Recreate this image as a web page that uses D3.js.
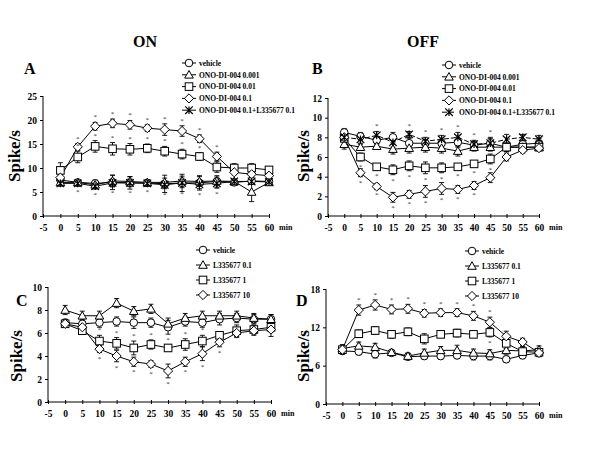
<!DOCTYPE html>
<html><head><meta charset="utf-8">
<script src="https://cdn.jsdelivr.net/npm/d3@7"></script>
<style>body{margin:0;background:#fff}svg{font-family:"Liberation Serif","Times New Roman",serif;font-weight:bold}</style>
</head><body><svg id="c" width="600" height="450"></svg>
<script>
// ---------- data ----------
const times = [0,5,10,15,20,25,30,35,40,45,50,55,60];
const xTicks = [-5,0,5,10,15,20,25,30,35,40,45,50,55,60];

// Panel A (ON, ONO-DI-004)
const A_labels = ["vehicle","ONO-DI-004 0.001","ONO-DI-004 0.01","ONO-DI-004 0.1","ONO-DI-004 0.1+L335677 0.1"];
const A_vehicle = [7.5,7.0,6.8,7.0,6.9,6.9,6.7,6.9,6.9,7.2,7.0,7.3,7.2];
const A_t001   = [7.0,7.0,6.5,7.3,7.2,7.0,7.0,7.3,7.2,7.3,7.2,5.0,7.0];
const A_t01    = [9.5,12.3,14.5,14.0,13.9,14.1,13.5,12.9,12.4,10.2,10.0,10.0,9.6];
const A_t1     = [8.0,14.4,18.7,19.3,19.0,18.3,18.0,17.7,16.1,12.4,9.1,8.7,8.4];
const A_comb   = [6.8,6.8,6.2,6.9,6.9,6.8,6.5,6.9,6.6,6.8,7.2,7.2,7.1];
const A_errV = [0.8,0.6,0.7,1.5,1.3,0.7,1.8,1.8,1.5,1.2,0.6,0.7,0.6];
const A_err1 = [0.5,0.6,0.7,1.2,1.0,0.6,0.9,1.0,1.0,0.8,0.5,2.0,0.5];
const A_err2 = [1.6,1.2,1.2,1.3,1.2,0.9,1.0,1.0,0.8,1.1,0.9,0.9,0.7];
const A_err3 = [0.6,0.7,0.8,0.9,0.9,0.7,1.2,1.1,0.8,0.9,0.5,0.5,0.5];
const A_errC = [0.6,0.6,0.6,0.8,0.8,0.6,0.8,1.0,0.9,1.0,0.4,0.5,0.4];
const A_yTicks = [0,5,10,15,20,25];

// Panel B (OFF, ONO-DI-004)
const B_labels = ["vehicle","ONO-DI-004 0.001","ONO-DI-004 0.01","ONO-DI-004 0.1","ONO-DI-004 0.1+L335677 0.1"];
const B_vehicle = [8.5,8.1,7.7,8.0,7.4,7.4,7.4,7.5,7.2,7.4,7.0,7.3,7.4];
const B_t001   = [7.3,7.0,7.1,6.8,6.9,7.0,6.9,6.6,7.0,7.0,7.0,7.0,7.0];
const B_t01    = [7.9,6.0,5.0,4.7,5.1,4.9,4.9,5.0,5.3,5.8,7.0,7.0,7.0];
const B_t1     = [8.0,4.4,3.0,1.9,2.2,2.5,2.8,2.7,3.1,3.9,6.0,6.7,6.9];
const B_comb   = [8.0,7.8,8.2,7.5,8.3,7.6,7.8,8.0,7.3,7.4,7.8,8.0,7.8];
const B_errV = [0.4,0.4,0.4,0.5,0.5,0.4,0.4,0.5,0.4,0.5,0.4,0.4,0.5];
const B_err1 = [0.5,0.3,0.3,0.5,0.5,0.5,0.5,0.5,0.4,0.4,0.4,0.3,0.3];
const B_err2 = [0.4,0.4,0.3,0.5,0.5,0.6,0.5,0.3,0.3,0.5,0.4,0.3,0.3];
const B_err3 = [0.4,0.4,0.3,0.5,0.4,0.6,0.6,0.4,0.4,0.5,0.4,0.3,0.3];
const B_errC = [0.4,0.4,0.4,0.5,0.3,0.4,0.4,0.5,0.4,0.6,0.5,0.3,0.4];
const B_yTicks = [0,2,4,6,8,10,12];

// Panel C (ON, L335677)
const C_labels = ["vehicle","L335677 0.1","L335677 1","L335677 10"];
const C_vehicle = [6.9,6.8,6.9,7.0,6.9,6.9,6.5,7.0,6.9,7.2,7.3,7.2,7.2];
const C_t01    = [8.0,7.5,7.5,8.6,7.9,8.1,6.8,7.3,7.5,7.5,7.5,7.3,7.2];
const C_t1     = [6.8,6.2,5.3,5.1,4.7,5.0,4.7,5.0,5.3,5.8,6.2,6.3,6.5];
const C_t10    = [6.8,6.5,4.6,4.0,3.5,3.3,2.7,3.5,4.2,5.2,6.0,6.2,6.3];
const C_errV = [0.3,0.4,0.4,0.4,0.5,0.4,0.6,0.4,0.4,0.5,0.4,0.4,0.4];
const C_err1 = [0.4,0.4,0.4,0.4,0.4,0.4,0.5,0.4,0.4,0.4,0.4,0.4,0.4];
const C_err2 = [0.3,0.3,0.5,0.5,0.6,0.4,0.3,0.5,0.5,0.3,0.5,0.4,0.4];
const C_err3 = [0.3,0.3,0.3,0.5,0.4,0.3,0.6,0.4,0.6,0.4,0.4,0.4,0.6];
const C_yTicks = [0,2,4,6,8,10];

// Panel D (OFF, L335677)
const D_labels = ["vehicle","L335677 0.1","L335677 1","L335677 10"];
const D_vehicle = [8.3,8.2,7.8,8.0,7.4,7.5,7.5,7.6,7.5,7.5,7.0,7.6,8.0];
const D_t01    = [8.7,9.1,8.9,8.1,7.5,8.0,8.4,8.4,8.0,7.9,8.4,8.3,8.5];
const D_t1     = [8.5,11.0,11.5,10.9,11.3,10.2,10.9,11.1,10.9,11.2,9.5,8.2,8.1];
const D_t10    = [8.5,14.7,15.5,14.8,14.9,14.2,14.3,14.3,13.8,12.8,10.6,9.7,8.0];
const D_errV = [0.5,0.5,0.6,0.4,0.5,0.5,0.5,0.5,0.6,0.6,0.5,0.5,0.5];
const D_err1 = [0.6,0.6,0.6,0.4,0.5,0.6,0.6,0.8,0.6,0.6,0.6,0.6,0.6];
const D_err2 = [0.6,0.6,0.6,0.6,0.6,0.8,0.5,0.6,0.5,0.7,0.8,0.8,0.6];
const D_err3 = [0.5,0.8,0.8,0.7,0.7,0.6,0.6,0.6,0.7,0.8,0.8,0.6,0.6];
const D_yTicks = [0,6,12,18];

// significance marks: [series index, time points, side]
const A_sig = [[3,[5,10,15,20,25,30,35,40,45],1],[2,[5,10,15,20,25,30,35,40],1],[4,[5,10,15,20,25,30,35,40,45],-1]];
const B_sig = [[4,[10,20,25,30,35,40,45],1],[2,[5,10,15,20,25,30,35,40,45],-1],[3,[5,10,15,20,25,30,35,40],-1]];
const C_sig = [[2,[10,15,20,25,30,35,40],1],[3,[10,15,20,25,30,35,40,45],-1]];
const D_sig = [[3,[5,10,15,20,25,30,35,40,45],1],[2,[5,45],-1]];

// ---------- drawing ----------
const svg = d3.select("#c");
const shapes = ["circle","triangle","square","diamond","star"];

function marker(g, type, x, y){
  const s = 3.8;
  if(type==="circle") g.append("circle").attr("cx",x).attr("cy",y).attr("r",s).attr("fill","#fff").attr("stroke","#000");
  else if(type==="square") g.append("rect").attr("x",x-s).attr("y",y-s).attr("width",2*s).attr("height",2*s).attr("fill","#fff").attr("stroke","#000");
  else if(type==="triangle") g.append("path").attr("d",`M${x},${y-s-0.5}L${x+s+0.5},${y+s-0.5}L${x-s-0.5},${y+s-0.5}Z`).attr("fill","#fff").attr("stroke","#000");
  else if(type==="diamond") g.append("path").attr("d",`M${x},${y-s-0.8}L${x+s+0.8},${y}L${x},${y+s+0.8}L${x-s-0.8},${y}Z`).attr("fill","#fff").attr("stroke","#000");
  else if(type==="star") g.append("path").attr("d",`M${x-s},${y-s}L${x+s},${y+s}M${x+s},${y-s}L${x-s},${y+s}M${x},${y-s}L${x},${y+s}`).attr("fill","none").attr("stroke","#000").attr("stroke-width",1.2);
}

function panel(cfg){
  const g = svg.append("g");
  const x = d3.scaleLinear().domain([-5,60]).range(cfg.xr);
  const y = d3.scaleLinear().domain([0,cfg.yMax]).range(cfg.yr);
  // axes
  const ya = d3.axisLeft(y).tickValues(cfg.yTicks).tickSize(3).tickFormat(d=>String(d));
  const gy = g.append("g").attr("transform",`translate(${cfg.xr[0]},0)`).call(ya);
  gy.select(".domain").attr("d",`M0,${cfg.yr[0]}V${cfg.yr[1]}`);
  gy.selectAll("text").attr("font-size",9.5).attr("font-family","Liberation Serif").attr("font-weight","bold");
  const xa = d3.axisBottom(x).tickValues(xTicks).tickSize(3).tickFormat(d=>String(d));
  const gx = g.append("g").attr("transform",`translate(0,${cfg.yr[0]})`).call(xa);
  gx.select(".domain").attr("d",`M${cfg.xr[0]},0H${cfg.xr[1]}`);
  gx.selectAll(".tick line").attr("y1",-2).attr("y2",2);
  gx.selectAll("text").attr("font-size",9.5).attr("font-family","Liberation Serif").attr("font-weight","bold").attr("dy","0.9em").attr("y",6);
  g.append("text").attr("x",cfg.xr[1]+10).attr("y",cfg.yr[0]+14).attr("font-size",8).text("min");
  // y label
  g.append("text").attr("transform",`translate(${cfg.ylx},${cfg.yly}) rotate(-90)`).attr("text-anchor","middle")
    .attr("font-size",17).text("Spike/s");
  // panel letter
  g.append("text").attr("x",cfg.letter[0]).attr("y",cfg.letter[1]).attr("font-size",16).text(cfg.letterText);
  // series
  cfg.series.forEach((vals,i)=>{
    const err = cfg.errs[i];
    const line = d3.line().x((d,j)=>x(times[j])).y(d=>y(d));
    g.append("path").attr("d",line(vals)).attr("fill","none").attr("stroke","#000").attr("stroke-width",1)
      .attr("stroke-dasharray", cfg.dash && cfg.dash[i] ? cfg.dash[i] : null);
    vals.forEach((v,j)=>{
      const cx = x(times[j]);
      const ytop = y(v+err[j]), ybot = y(v-err[j]);
      g.append("path").attr("d",`M${cx},${ytop}V${ybot}M${cx-2.5},${ytop}H${cx+2.5}M${cx-2.5},${ybot}H${cx+2.5}`)
        .attr("stroke","#000").attr("stroke-width",0.9).attr("fill","none");
    });
  });
  cfg.series.forEach((vals,i)=>{
    vals.forEach((v,j)=>marker(g, cfg.shapes[i], x(times[j]), y(v)));
  });
  // significance
  cfg.sig.forEach(([si,pts,side])=>{
    pts.forEach(t=>{
      const j = times.indexOf(t);
      const v = cfg.series[si][j], e = cfg.errs[si][j];
      const py = side>0 ? y(v+e)-3 : y(v-e)+8;
      g.append("text").attr("x",x(t)).attr("y",py).attr("text-anchor","middle").attr("font-size",7).attr("font-weight","normal").attr("fill","#333").text("*");
    });
  });
  // legend
  cfg.labels.forEach((lab,i)=>{
    const ly = cfg.leg[1] + i*cfg.leg[2];
    const lx = cfg.leg[0];
    g.append("line").attr("x1",lx).attr("x2",lx+14).attr("y1",ly).attr("y2",ly).attr("stroke","#000")
      .attr("stroke-dasharray", cfg.dash && cfg.dash[i] ? cfg.dash[i] : null);
    marker(g, cfg.shapes[i], lx+7, ly);
    g.append("text").attr("x",lx+17).attr("y",ly+2.8).attr("font-size",7.5).text(lab);
  });
}

// titles
svg.append("text").attr("x",145).attr("y",47).attr("text-anchor","middle").attr("font-size",16).text("ON");
svg.append("text").attr("x",423).attr("y",47).attr("text-anchor","middle").attr("font-size",16).text("OFF");

panel({xr:[43,269], yr:[216,96], yMax:25, yTicks:A_yTicks, ylx:20, yly:156, letter:[24,74], letterText:"A",
  series:[A_vehicle,A_t001,A_t01,A_t1,A_comb], errs:[A_errV,A_err1,A_err2,A_err3,A_errC],
  shapes:shapes, labels:A_labels, leg:[182,63,11.8], sig:A_sig});
panel({xr:[328,539], yr:[216,98], yMax:12, yTicks:B_yTicks, ylx:309, yly:156, letter:[312,74], letterText:"B",
  series:[B_vehicle,B_t001,B_t01,B_t1,B_comb], errs:[B_errV,B_err1,B_err2,B_err3,B_errC],
  shapes:shapes, labels:B_labels, leg:[442,65,11.8], sig:B_sig, dash:[null,null,null,null,"5,2"]});
panel({xr:[48,271], yr:[402,287], yMax:10, yTicks:C_yTicks, ylx:22, yly:356, letter:[16,306], letterText:"C",
  series:[C_vehicle,C_t01,C_t1,C_t10], errs:[C_errV,C_err1,C_err2,C_err3],
  shapes:shapes, labels:C_labels, leg:[196,250,15], sig:C_sig});
panel({xr:[326,539], yr:[404,289], yMax:18, yTicks:D_yTicks, ylx:309, yly:356, letter:[296,306], letterText:"D",
  series:[D_vehicle,D_t01,D_t1,D_t10], errs:[D_errV,D_err1,D_err2,D_err3],
  shapes:shapes, labels:D_labels, leg:[465,251,15], sig:D_sig});
</script></body></html>
